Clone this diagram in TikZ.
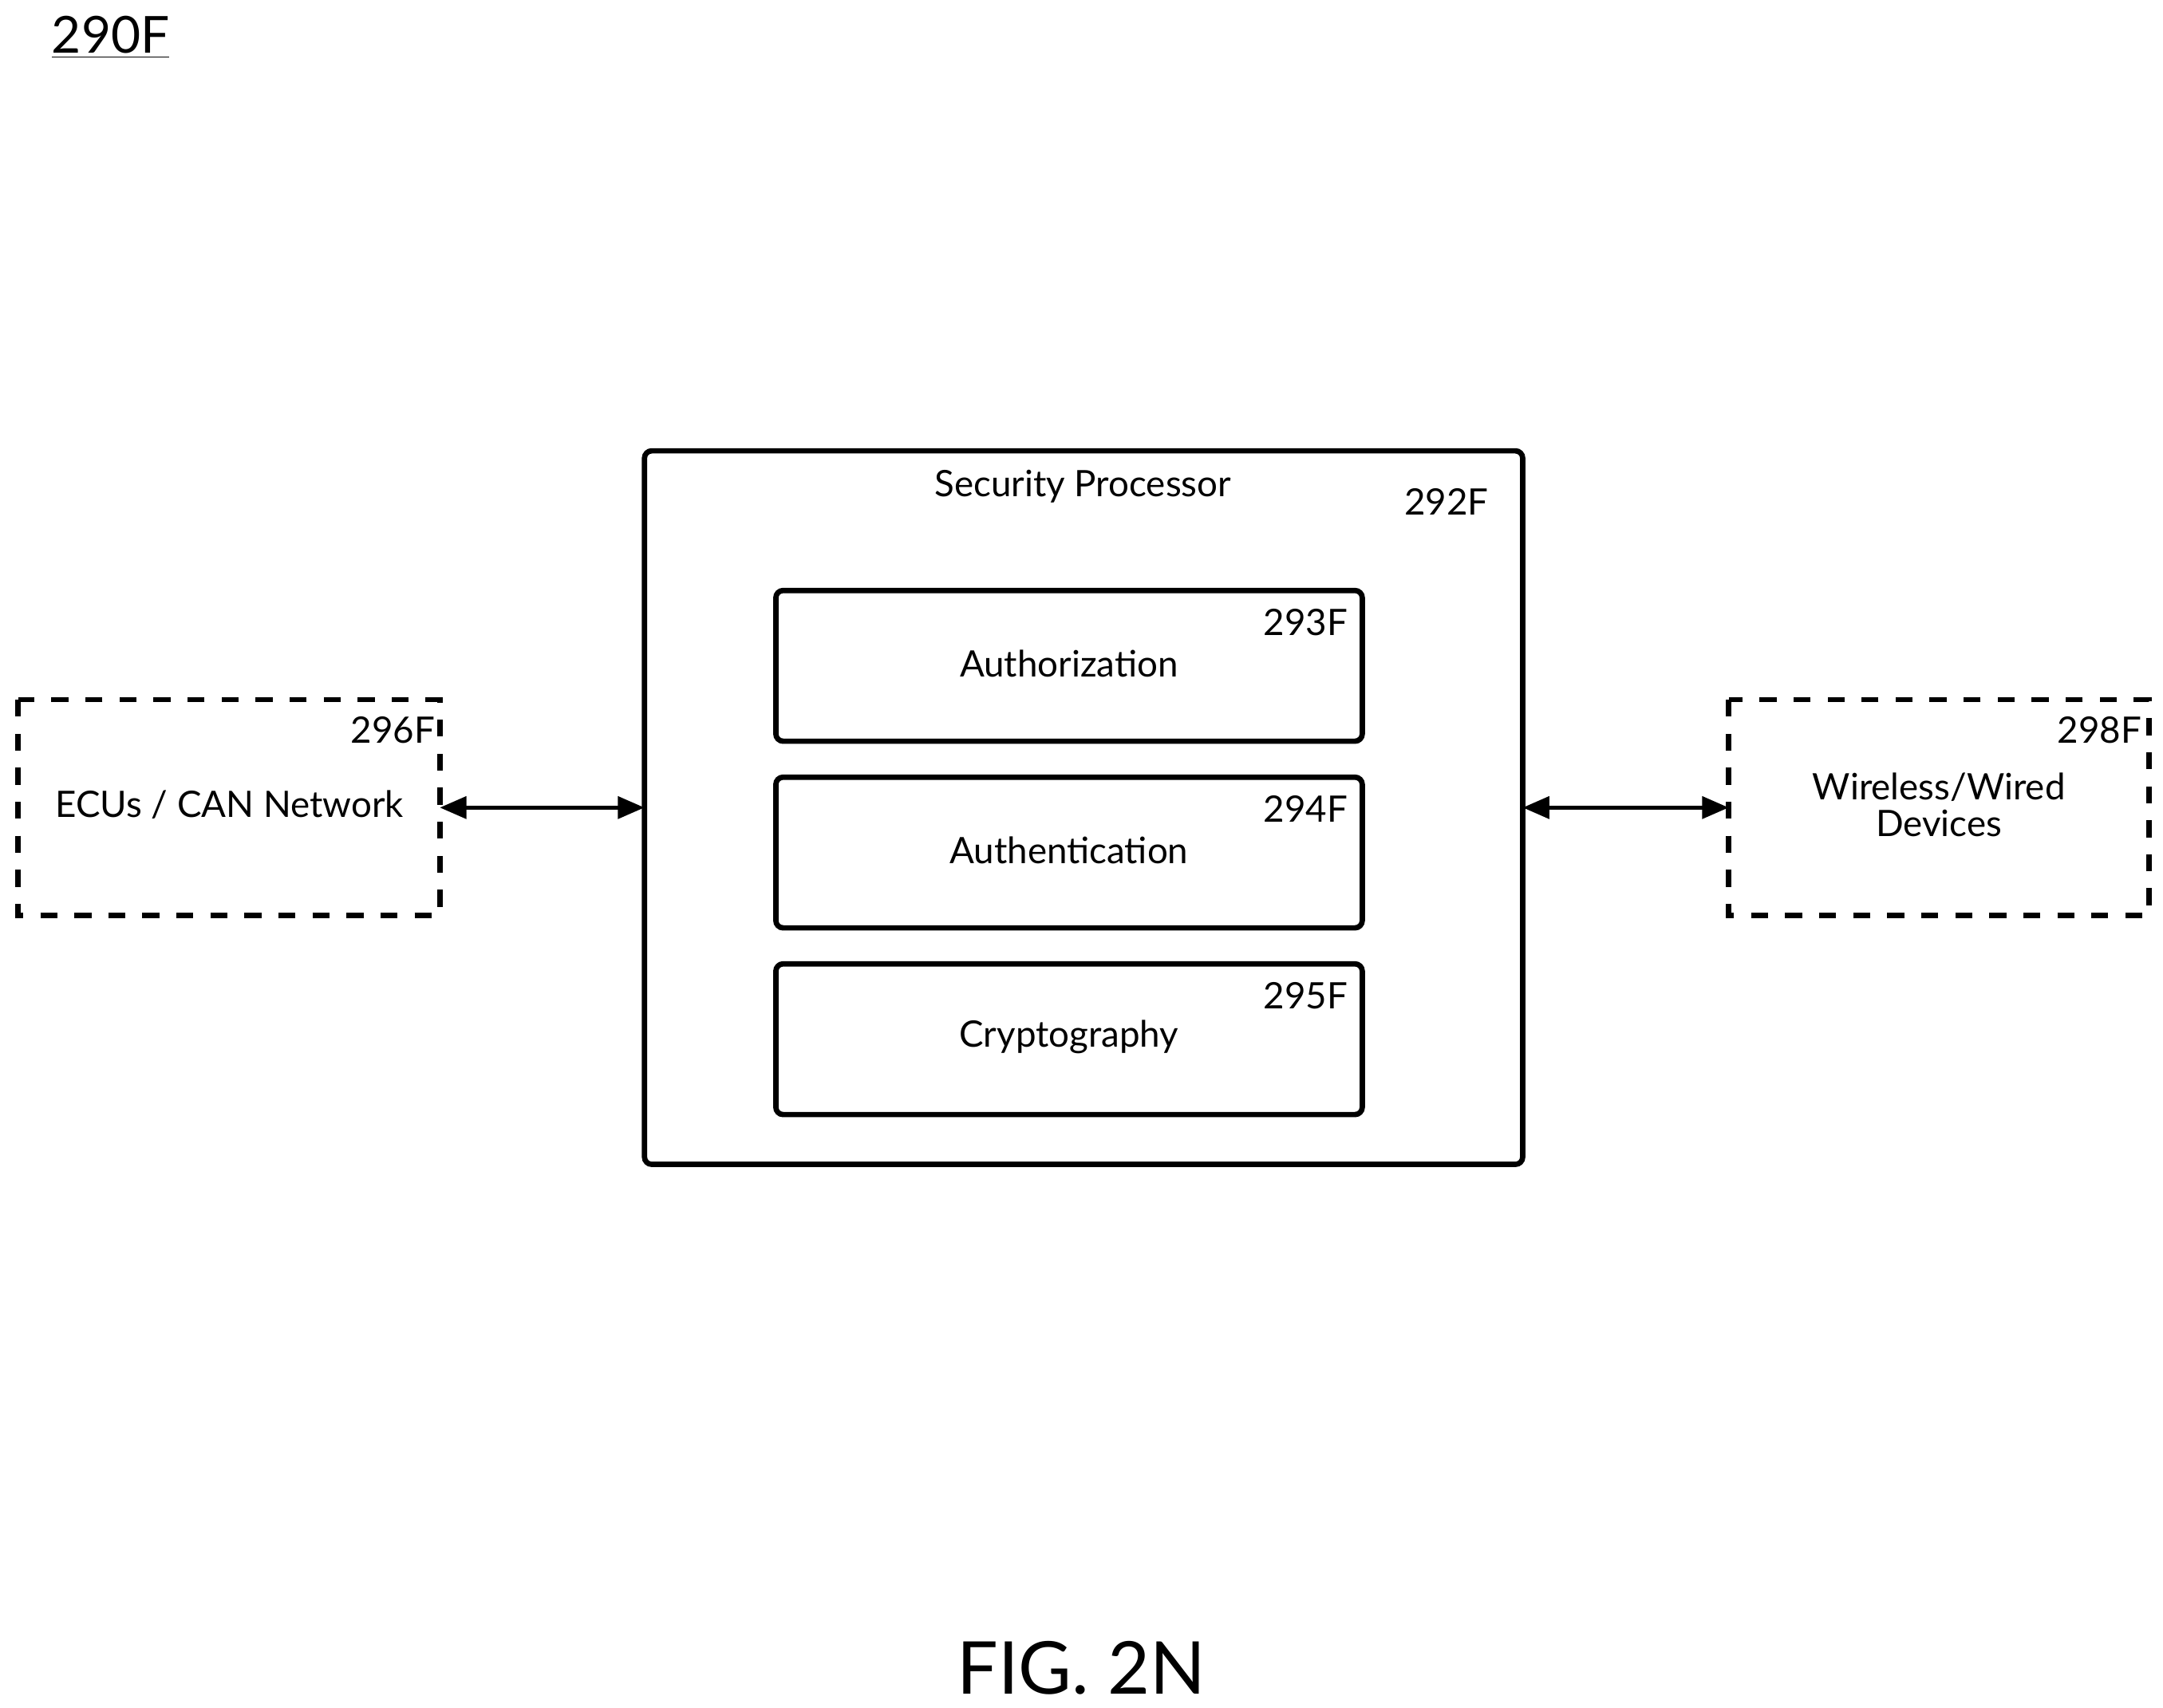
\documentclass[tikz,border=0pt]{standalone}
\usepackage{fontspec}
\setmainfont{Lato}
\usetikzlibrary{arrows.meta}
\begin{document}
\begin{tikzpicture}[x=0.02cm,y=-0.02cm,
  box/.style={draw,line width=2.2pt,rounded corners=3pt},
  dbox/.style={draw,line width=2.2pt,dash pattern=on 7pt off 7pt},
  lbl/.style={font=\fontsize{15}{18}\selectfont,align=center},
  arr/.style={{Triangle[length=11pt,width=9pt]}-{Triangle[length=11pt,width=9pt]},line width=1.8pt}]
\useasboundingbox (0,0) rectangle (1564,1235);
\node[font=\fontsize{21}{24}\selectfont] (t) at (80,27) {\underline{290F}};
\draw[box] (466,326) rectangle (1101,842);
\coordinate (spl) at (466,584); \coordinate (spr) at (1101,584);
\node[lbl] (sp) at (783,352) {Security Processor};
\node[lbl] (n292) at (1046,363) {292F};
\foreach \y/\t/\n in {427/Authorization/293F,562/Authentication/294F,697/Cryptography/295F}{
  \draw[box] (561,\y) rectangle (985,\y+109);
  \node[lbl] at (773,\y+53) {\t};
  \node[lbl] at (944,\y+23) {\n};
}
\draw[dbox] (13,506) rectangle (318,662);
\coordinate (ecu) at (318,584);
\node[lbl] (ecut) at (166,582) {ECUs / CAN Network};
\node[lbl] at (284,528) {296F};
\draw[dbox] (1250,506) rectangle (1554,662);
\coordinate (wd) at (1250,584);
\node[lbl] (wdt) at (1402,582) {Wireless/Wired\\[-3pt]Devices};
\node[lbl] at (1518,528) {298F};
\draw[arr] (ecu) -- (spl);
\draw[arr] (spr) -- (wd);
\node[font=\fontsize{30}{36}\selectfont] (fig) at (782,1206) {FIG. 2N};
\end{tikzpicture}
\end{document}
